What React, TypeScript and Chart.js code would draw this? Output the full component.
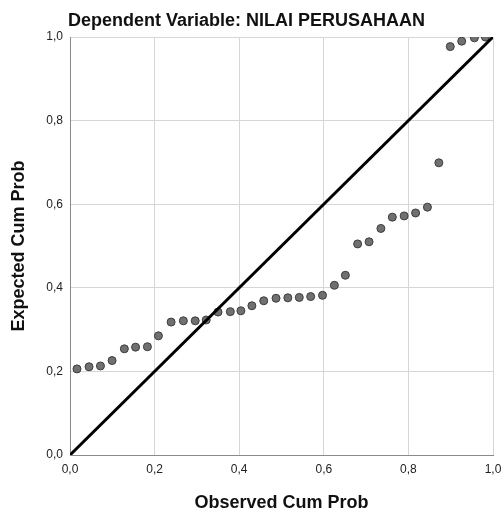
import React, { useEffect, useRef } from "react";
import { Chart, registerables } from "chart.js";

Chart.register(...registerables);

const observedCumProb = [
  0.0165, 0.045, 0.072, 0.0995, 0.1285, 0.155, 0.183, 0.209, 0.239, 0.268, 0.296, 0.322,
  0.35, 0.379, 0.404, 0.43, 0.458, 0.487, 0.515, 0.542, 0.569, 0.597, 0.625, 0.651,
  0.68, 0.707, 0.735, 0.762, 0.79, 0.817, 0.845, 0.872, 0.899, 0.926, 0.956, 0.982,
];
const expectedCumProb = [
  0.206, 0.211, 0.213, 0.226, 0.254, 0.258, 0.259, 0.285, 0.318, 0.321, 0.321, 0.323,
  0.342, 0.343, 0.345, 0.357, 0.369, 0.375, 0.376, 0.377, 0.379, 0.382, 0.406, 0.43,
  0.505, 0.51, 0.542, 0.569, 0.572, 0.579, 0.593, 0.699, 0.977, 0.99, 0.998, 1.0,
];
const referenceLine = [
  { x: 0, y: 0 },
  { x: 1, y: 1 },
];
const xTickLabels = ["0,0", "0,2", "0,4", "0,6", "0,8", "1,0"];
const yTickLabels = ["0,0", "0,2", "0,4", "0,6", "0,8", "1,0"];
const chartTitle = "Dependent Variable: NILAI PERUSAHAAN";
const xTitle = "Observed Cum Prob";
const yTitle = "Expected Cum Prob";

const FONT = "'Liberation Sans', Arial, sans-serif";

export default function App() {
  const ref = useRef<HTMLCanvasElement | null>(null);
  useEffect(() => {
    if (!ref.current) return;
    const points = observedCumProb.map((x, i) => ({ x, y: expectedCumProb[i] }));
    const chart = new Chart(ref.current, {
      type: "scatter",
      data: {
        datasets: [
          {
            type: "line",
            data: referenceLine,
            borderColor: "#000000",
            borderWidth: 3,
            pointRadius: 0,
            fill: false,
            order: 0,
          } as any,
          {
            type: "scatter",
            data: points,
            backgroundColor: "#707070",
            borderColor: "#3c3c3c",
            borderWidth: 1,
            pointRadius: 4,
            order: 1,
          },
        ],
      },
      options: {
        animation: false,
        responsive: false,
        layout: { padding: { left: 0, right: 11, top: 0, bottom: 0 } },
        plugins: {
          legend: { display: false },
          tooltip: { enabled: false },
          title: {
            display: true,
            text: chartTitle,
            color: "#111",
            font: { family: FONT, size: 18, weight: "bold", lineHeight: 1 },
            padding: { top: 12, bottom: 7 },
          },
        },
        scales: {
          x: {
            type: "linear",
            min: 0,
            max: 1,
            ticks: {
              stepSize: 0.2,
              padding: 7,
              color: "#222",
              font: { family: FONT, size: 12 },
              callback: (_v: any, i: number) => xTickLabels[i],
            },
            grid: { color: "#d6d6d6", drawTicks: false },
            border: { color: "#8a8a8a" },
            title: {
              display: true,
              text: xTitle,
              color: "#111",
              font: { family: FONT, size: 18, weight: "bold", lineHeight: 1 },
              padding: { top: 0, bottom: 1 },
            },
            afterFit: (s: any) => {
              s.height = 58;
              s.paddingRight = 11;
              s.paddingLeft = 0;
            },
          },
          y: {
            type: "linear",
            min: 0,
            max: 1,
            ticks: {
              stepSize: 0.2,
              padding: 7,
              color: "#222",
              font: { family: FONT, size: 12 },
              callback: (_v: any, i: number) => yTickLabels[i],
            },
            grid: { color: "#d6d6d6", drawTicks: false },
            border: { color: "#8a8a8a" },
            title: {
              display: true,
              text: yTitle,
              color: "#111",
              font: { family: FONT, size: 18, weight: "bold", lineHeight: 1 },
              padding: { top: 10, bottom: 0 },
            },
            afterFit: (s: any) => {
              s.width = 70;
            },
          },
        },
      },
    });
    return () => chart.destroy();
  }, []);
  return (
    <div style={{ position: "absolute", left: 0, top: 0, width: 504, height: 513, background: "#fff" }}>
      <canvas ref={ref} width={504} height={513} />
    </div>
  );
}
